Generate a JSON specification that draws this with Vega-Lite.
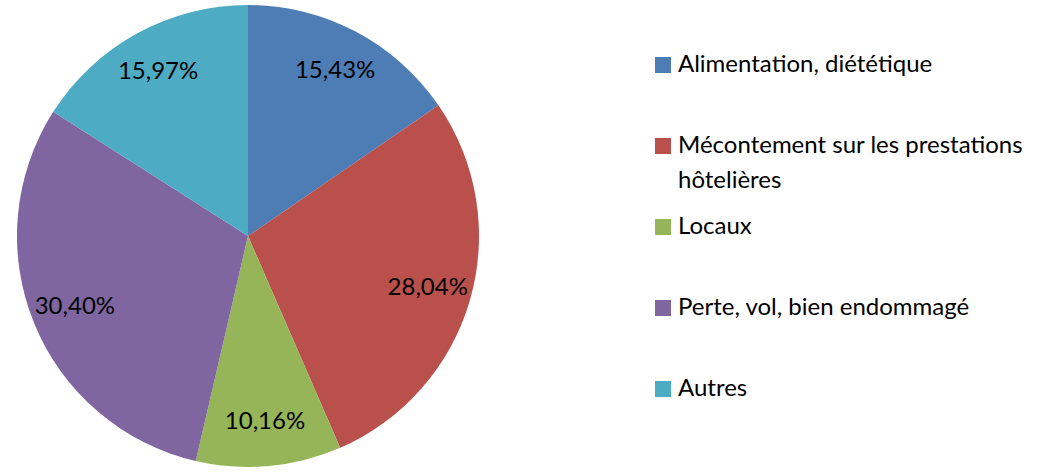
{
  "$schema": "https://vega.github.io/schema/vega-lite/v6.json",
  "width": 496,
  "height": 472,
  "padding": 0,
  "background": "white",
  "data": {
    "values": [
      {"cat": "Alimentation, diététique", "pct": 15.43, "label": "15,43%", "ord": 1},
      {"cat": "Mécontement sur les prestations hôtelières", "pct": 28.04, "label": "28,04%", "ord": 2},
      {"cat": "Locaux", "pct": 10.16, "label": "10,16%", "ord": 3},
      {"cat": "Perte, vol, bien endommagé", "pct": 30.40, "label": "30,40%", "ord": 4},
      {"cat": "Autres", "pct": 15.97, "label": "15,97%", "ord": 5}
    ]
  },
  "encoding": {
    "theta": {"field": "pct", "type": "quantitative", "stack": true},
    "order": {"field": "ord", "type": "quantitative"}
  },
  "layer": [
    {
      "mark": {"type": "arc", "radius": 231, "stroke": "white", "strokeWidth": 0},
      "encoding": {
        "color": {
          "field": "cat",
          "type": "nominal",
          "sort": null,
          "scale": {
            "domain": ["Alimentation, diététique", "Mécontement sur les prestations hôtelières", "Locaux", "Perte, vol, bien endommagé", "Autres"],
            "range": ["#4E7DB6", "#BA504C", "#96B458", "#7F66A0", "#4EABC4"]
          },
          "legend": {
            "orient": "none",
            "legendX": 651,
            "legendY": 53,
            "title": null,
            "symbolType": "square",
            "symbolSize": 256,
            "symbolStrokeWidth": 0,
            "labelFont": "Lato",
            "labelFontSize": 24,
            "labelColor": "#000000",
            "labelLimit": 500,
            "labelOffset": 3,
            "rowPadding": 46,
            "labelExpr": "datum.label == 'Mécontement sur les prestations hôtelières' ? ['hôtelières', 'Mécontement sur les prestations'] : ['', datum.label]"
          }
        }
      }
    },
    {
      "mark": {"type": "text", "radius": 187, "font": "Lato", "fontSize": 24, "color": "#000000"},
      "encoding": {
        "text": {"field": "label"},
        "detail": {"field": "cat"}
      }
    }
  ],
  "config": {
    "view": {"stroke": null},
    "style": {"guide-label": {"lineHeight": -35, "dy": 35}}
  }
}
